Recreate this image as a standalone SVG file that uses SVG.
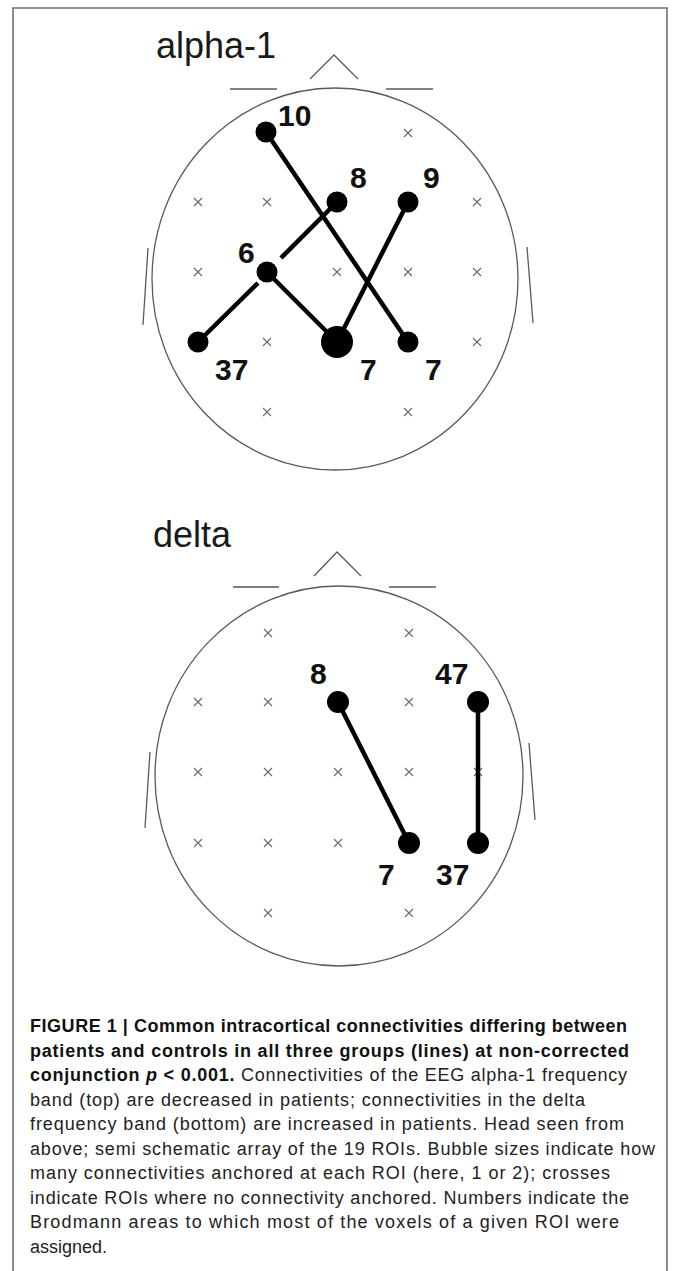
<svg xmlns="http://www.w3.org/2000/svg" xmlns:xlink="http://www.w3.org/1999/xlink" width="673" height="1271" viewBox="0 0 673 1271">
<style>
.frame{fill:none;stroke:#6e6e6e;stroke-width:1.6}
.head{fill:none;stroke:#5a5a5a;stroke-width:1.3}
.cross{fill:none;stroke:#6a6a6a;stroke-width:1.1}
.conn{fill:none;stroke:#000;stroke-width:4.5;stroke-linecap:butt}
.node{fill:#000}
.lbl{font-family:"Liberation Sans",Arial,sans-serif;font-weight:bold;font-size:30px;fill:#111}
.title{font-family:"Liberation Sans",Arial,sans-serif;font-size:36px;fill:#1a1a1a}
.cap{font-family:"Liberation Sans",Arial,sans-serif;font-size:18px;fill:#222}
.b{font-weight:bold;fill:#111}
</style>
<defs>
<path id="x" class="cross" d="M-4,-4L4,4M-4,4L4,-4"/>
</defs>
<rect width="673" height="1271" fill="#fff"/>
<path class="frame" d="M13,1271V8H667V1271"/>

<!-- alpha-1 panel -->
<g id="alpha-head">
<text class="title" x="156" y="58">alpha-1</text>
<path class="head" d="M310,79L334,55L358,79M230,89H277M386,89H433M148,248L143,325M527,247L533,323"/>
<ellipse class="head" cx="335" cy="279" rx="183" ry="191"/>
</g>
<g id="alpha-crosses">
<use xlink:href="#x" x="408" y="133"/>
<use xlink:href="#x" x="198" y="202"/>
<use xlink:href="#x" x="267" y="202"/>
<use xlink:href="#x" x="477" y="202"/>
<use xlink:href="#x" x="198" y="272"/>
<use xlink:href="#x" x="337" y="272"/>
<use xlink:href="#x" x="408" y="272"/>
<use xlink:href="#x" x="477" y="272"/>
<use xlink:href="#x" x="267" y="342"/>
<use xlink:href="#x" x="477" y="342"/>
<use xlink:href="#x" x="267" y="412"/>
<use xlink:href="#x" x="408" y="412"/>
</g>
<g id="alpha-connectors">
<path class="conn" d="M266,132L408,342"/>
<path class="conn" d="M337,202L281,258M258,283L198,342"/>
<path class="conn" d="M267,272L337,342"/>
<path class="conn" d="M408,202L337,342"/>
</g>
<g id="a-n10"><circle class="node" cx="266" cy="132" r="10.5"/><text class="lbl" x="278" y="126">10</text></g>
<g id="a-n8"><circle class="node" cx="337" cy="202" r="10.5"/><text class="lbl" x="350" y="188">8</text></g>
<g id="a-n9"><circle class="node" cx="408" cy="202" r="10.5"/><text class="lbl" x="423" y="188">9</text></g>
<g id="a-n6"><circle class="node" cx="267" cy="272" r="10.5"/><text class="lbl" x="238" y="263">6</text></g>
<g id="a-n37"><circle class="node" cx="198" cy="342" r="10.5"/><text class="lbl" x="215" y="380">37</text></g>
<g id="a-n7big"><circle class="node" cx="337" cy="342" r="16"/><text class="lbl" x="360" y="380">7</text></g>
<g id="a-n7"><circle class="node" cx="408" cy="342" r="10.5"/><text class="lbl" x="425" y="380">7</text></g>

<!-- delta panel -->
<g id="delta-head">
<text class="title" x="153" y="547">delta</text>
<path class="head" d="M314,576L337,552L361,576M233,587H279M389,587H436M150,752L145,828M529,743L535,820"/>
<ellipse class="head" cx="339" cy="776" rx="184" ry="190"/>
</g>
<g id="delta-crosses">
<use xlink:href="#x" x="268" y="633"/>
<use xlink:href="#x" x="409" y="633"/>
<use xlink:href="#x" x="198" y="702"/>
<use xlink:href="#x" x="268" y="702"/>
<use xlink:href="#x" x="409" y="702"/>
<use xlink:href="#x" x="198" y="772"/>
<use xlink:href="#x" x="268" y="772"/>
<use xlink:href="#x" x="338" y="772"/>
<use xlink:href="#x" x="409" y="772"/>
<use xlink:href="#x" x="478" y="772"/>
<use xlink:href="#x" x="198" y="843"/>
<use xlink:href="#x" x="268" y="843"/>
<use xlink:href="#x" x="338" y="843"/>
<use xlink:href="#x" x="268" y="913"/>
<use xlink:href="#x" x="409" y="913"/>
</g>
<g id="delta-connectors">
<path class="conn" d="M338,702L409,843"/>
<path class="conn" d="M478,702V843"/>
</g>
<g id="d-n8"><circle class="node" cx="338" cy="702" r="11"/><text class="lbl" x="310" y="684">8</text></g>
<g id="d-n47"><circle class="node" cx="478" cy="702" r="11"/><text class="lbl" x="435" y="684">47</text></g>
<g id="d-n7"><circle class="node" cx="409" cy="843" r="11"/><text class="lbl" x="378" y="885">7</text></g>
<g id="d-n37"><circle class="node" cx="478" cy="843" r="11"/><text class="lbl" x="436" y="885">37</text></g>

<!-- caption -->
<g id="caption">
<text class="cap b" x="30" y="1032" textLength="597" lengthAdjust="spacing">FIGURE 1 | Common intracortical connectivities differing between</text>
<text class="cap b" x="30" y="1056.5" textLength="599" lengthAdjust="spacing">patients and controls in all three groups (lines) at non-corrected</text>
<text class="cap" x="30" y="1081" textLength="597" lengthAdjust="spacing"><tspan class="b">conjunction <tspan font-style="italic">p</tspan> &lt; 0.001.</tspan> Connectivities of the EEG alpha-1 frequency</text>
<text class="cap" x="30" y="1105.5" textLength="555" lengthAdjust="spacing">band (top) are decreased in patients; connectivities in the delta</text>
<text class="cap" x="30" y="1130" textLength="594" lengthAdjust="spacing">frequency band (bottom) are increased in patients. Head seen from</text>
<text class="cap" x="30" y="1154.5" textLength="625" lengthAdjust="spacing">above; semi schematic array of the 19 ROIs. Bubble sizes indicate how</text>
<text class="cap" x="30" y="1179" textLength="580" lengthAdjust="spacing">many connectivities anchored at each ROI (here, 1 or 2); crosses</text>
<text class="cap" x="30" y="1203.5" textLength="599" lengthAdjust="spacing">indicate ROIs where no connectivity anchored. Numbers indicate the</text>
<text class="cap" x="30" y="1228" textLength="589" lengthAdjust="spacing">Brodmann areas to which most of the voxels of a given ROI were</text>
<text class="cap" x="30" y="1252.5">assigned.</text>
</g>
</svg>
